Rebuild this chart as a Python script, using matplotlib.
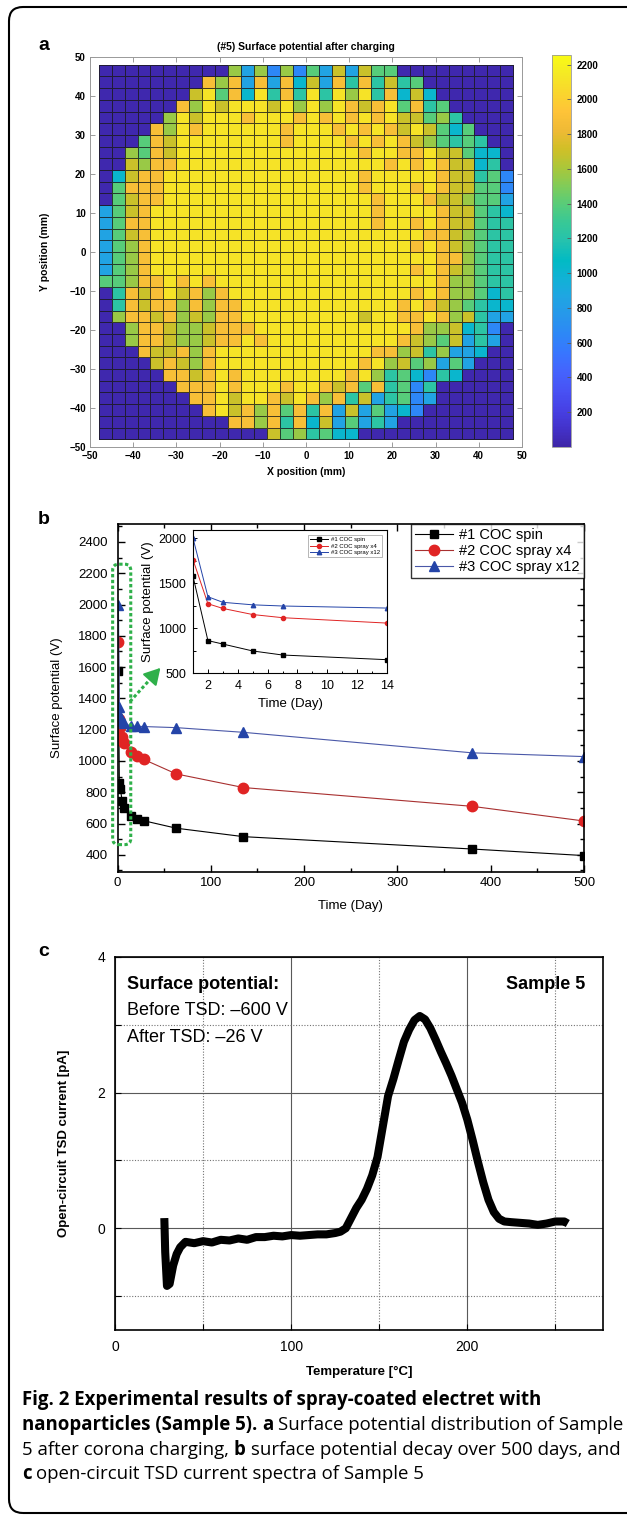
import numpy as np
import matplotlib
matplotlib.use("Agg")
import matplotlib.pyplot as plt
from matplotlib.colors import LinearSegmentedColormap
from matplotlib.patches import FancyBboxPatch
from matplotlib.transforms import IdentityTransform
from matplotlib.ticker import MultipleLocator

plt.rcParams["font.family"] = ["Liberation Sans", "DejaVu Sans"]

W, H = 627, 1516

# matlab parula (R2017a+), every 3rd entry of the 64 colour table
parula_pts = [
    (0.2422, 0.1504, 0.6603), (0.2647, 0.1978, 0.7952), (0.2783, 0.2559, 0.8991),
    (0.2810, 0.3228, 0.9579), (0.2699, 0.3892, 0.9906), (0.2206, 0.4603, 0.9973),
    (0.1786, 0.5289, 0.9682), (0.1540, 0.5902, 0.9218), (0.1248, 0.6459, 0.8883),
    (0.0689, 0.6948, 0.8394), (0.0067, 0.7312, 0.7660), (0.1408, 0.7584, 0.6842),
    (0.2161, 0.7843, 0.5923), (0.3406, 0.8008, 0.4789), (0.5044, 0.7993, 0.3480),
    (0.6720, 0.7793, 0.2227), (0.8203, 0.7498, 0.1535), (0.9393, 0.7288, 0.2100),
    (0.9970, 0.7659, 0.2199), (0.9786, 0.8386, 0.1766), (0.9597, 0.9135, 0.1423),
    (0.9769, 0.9839, 0.0805),
]
parula = LinearSegmentedColormap.from_list(
    "parula", [(i / (len(parula_pts) - 1), c) for i, c in enumerate(parula_pts)])

# ---- (a) potential map, 32 x 32 cells of 3 mm, top row first
cell_value = {"d": 25, "b": 650, "u": 850, "c": 1020, "t": 1230, "g": 1400,
              "l": 1560, "o": 1700, "r": 1880, "y": 2110}
map_rows = [
    "d" * 10 + "lulblbguouogg" + "d" * 9,
    "d" * 8 + "rlrururcourtrtotg" + "d" * 7,
    "d" * 7 + "oygrcytrtytylytrcoc" + "d" * 6,
    "d" * 6 + "rlyoyyyoylylyrorygrtg" + "d" * 5,
    "d" * 5 + "lyoyyyryyyryryryryooglt" + "d" * 4,
    "d" * 4 + "rlyryyyyyyryyyryryroyogcg" + "d" * 3,
    "d" * 3 + "groyyyyyyyyryyyyryryrolgtgt" + "d" * 2,
    "dd" + "lgro" + "y" * 14 + "ryyrryoogcc" + "d",
    "dd" + "olrr" + "y" * 16 + "ryryrooct" + "d",
    "dcorr" + "y" * 15 + "r" + "y" * 5 + "rootgb",
    "dgrrr" + "y" * 15 + "ryyyryro" + "oggb",
    "dgorr" + "y" * 16 + "ryyyro" + "olggu",
    "ugor" + "y" * 17 + "ryyyyr" + "oogtc",
    "ugrr" + "y" * 17 + "ryyryr" + "oogtt",
    "ugor" + "y" * 17 + "yyyyrr" + "olgtt",
    "uglr" + "y" * 17 + "yyyryr" + "olgtt",
    "uglr" + "y" * 17 + "yyyyyr" + "rlgtt",
    "uglr" + "y" * 17 + "yyyryr" + "olgtt",
    "gglrryryry" + "y" * 14 + "yyr" + "llgtt",
    "dtroryorlr" + "y" * 13 + "yryr" + "llgct",
    "dtrorrlrlrr" + "y" * 12 + "ryro" + "lgtcc",
    "dlrrorlolrr" + "y" * 9 + "oyy" + "rryr" + "lotuu",
    "ddlrrollorrr" + "y" * 12 + "rllo" + "ctbd",
    "ddlrrollor" + "ryr" + "y" * 10 + "rolgo" + "utud",
    "dddroorlry" + "y" * 11 + "rrlotl" + "uucdd",
    "ddddorolry" + "y" * 10 + "ryl" + "oglugu" + "ddd",
    "dddddrrory" + "r" + "y" * 8 + "ryltgcbtc" + "dddd",
    "ddddddrrry" + "ryyyryy" + "rorgrtgbt" + "d" * 6,
    "dddddddrry" + "oyyroyr" + "lrtoutgbu" + "d" * 6,
    "ddddddddry" + "orlrgrtruougucb" + "d" * 7,
    "d" * 10 + "rrlrtrcougutu" + "d" * 9,
    "d" * 13 + "ogltgcc" + "d" * 12,
]
cell_edges_mm = np.arange(-48, 49, 3)
cbar_ticks = list(range(200, 2201, 200))

# ---- (b) surface potential decay
decay_days = [1, 2, 3, 5, 7, 14, 21, 28, 63, 135, 380, 500]
spin = [1575, 860, 822, 745, 700, 648, 630, 618, 570, 516, 437, 395]
spray_x4 = [1760, 1270, 1218, 1150, 1115, 1055, 1030, 1010, 917, 830, 710, 616]
spray_x12 = [2000, 1348, 1286, 1258, 1245, 1222, 1222, 1220, 1213, 1183, 1052, 1028]
series_labels = ["#1 COC spin", "#2 COC spray x4", "#3 COC spray x12"]
n_inset = 6  # first two weeks shown in the inset

# ---- (c) open-circuit TSD current
tsd_temp = [28, 28.5, 29.5, 31, 33, 35, 37, 40,
            45, 50, 55, 60, 65, 70, 75, 80, 85, 90, 95, 100, 105, 110, 115, 120, 125,
            128, 131, 134, 137, 140, 143, 146, 149, 152, 155, 158, 161, 164, 167, 170,
            173, 176, 179, 182, 185, 188, 191, 194, 197, 200, 203, 206, 209, 212, 215,
            218, 221, 225, 230, 235, 240, 245, 250, 255, 257]
tsd_current = [0.15, -0.35, -0.85, -0.82, -0.55, -0.38, -0.28, -0.2,
               -0.22, -0.19, -0.21, -0.17, -0.18, -0.15, -0.17, -0.13, -0.13, -0.11,
               -0.12, -0.1, -0.11, -0.1, -0.09, -0.09, -0.07,
               -0.05, 0.0, 0.15, 0.3, 0.42, 0.58, 0.78, 1.05, 1.5, 1.95, 2.2, 2.48,
               2.75, 2.93, 3.07, 3.13, 3.08, 2.95, 2.78, 2.6, 2.43, 2.25, 2.05, 1.85,
               1.6, 1.3, 0.98, 0.68, 0.42, 0.24, 0.14, 0.1,
               0.09, 0.08, 0.07, 0.05, 0.07, 0.1, 0.1, 0.07]


def px_box(left, top, right, bottom):
    return [left / W, 1 - bottom / H, (right - left) / W, (bottom - top) / H]


fig = plt.figure(figsize=(W / 100, H / 100), dpi=100)

# outer rounded frame (right side runs off the page like the scan)
fig.add_artist(FancyBboxPatch((9, 3), 660, 1506, boxstyle="round,pad=0,rounding_size=14",
                              transform=IdentityTransform(), fill=False, lw=1.5, ec="black"))

for letter, y in [("a", 45), ("b", 519), ("c", 952)]:
    fig.text(38 / W, 1 - y / H, letter, fontsize=14, fontweight="bold", va="center", ha="left")

# ---------------- panel a
ax_a = fig.add_axes(px_box(90, 57, 522, 447))
grid = np.array([[cell_value[ch] for ch in row] for row in map_rows[::-1]])
mesh = ax_a.pcolormesh(cell_edges_mm, cell_edges_mm, grid, cmap=parula, vmin=0, vmax=2255,
                       edgecolors=(0.1, 0.1, 0.1, 0.8), linewidth=0.45)
ax_a.set_xlim(-50, 50)
ax_a.set_ylim(-50, 50)
ax_a.set_xticks(range(-50, 51, 10))
ax_a.set_yticks(range(-50, 51, 10))
ax_a.tick_params(direction="in", top=True, right=True, length=3.5, width=0.6, color="0.55",
                 labelsize=7, pad=3)
plt.setp(ax_a.get_xticklabels() + ax_a.get_yticklabels(), fontweight="bold")
for sp in ax_a.spines.values():
    sp.set_color("0.6")
    sp.set_linewidth(0.7)
ax_a.set_title("(#5) Surface potential after charging", fontsize=7.5, fontweight="bold", pad=5)
ax_a.set_xlabel("X position (mm)", fontsize=7.5, fontweight="bold", labelpad=4)
ax_a.set_ylabel("Y position (mm)", fontsize=7.5, fontweight="bold")
ax_a.yaxis.set_label_coords((50 - 90) / 432, 0.5)

cax = fig.add_axes(px_box(552, 55, 571, 447))
cb = fig.colorbar(mesh, cax=cax, ticks=cbar_ticks)
cb.outline.set_edgecolor("0.6")
cb.outline.set_linewidth(0.6)
cax.tick_params(direction="in", length=3, width=0.6, color="0.35", labelsize=7, pad=4)
plt.setp(cax.get_yticklabels(), fontweight="bold")

# ---------------- panel b
red, red_line = "#e02424", "#a83030"
blue, blue_line = "#2444a8", "#4a58a8"
ax_b = fig.add_axes(px_box(117.5, 524, 584, 872))
ax_b.plot(decay_days, spin, "-s", color="black", ms=6, lw=0.8, label=series_labels[0])
ax_b.plot(decay_days, spray_x4, "-o", color=red_line, mfc=red, mec=red, ms=7.5, lw=0.8,
          label=series_labels[1])
ax_b.plot(decay_days, spray_x12, "-^", color=blue_line, mfc=blue, mec=blue, ms=7.5, lw=0.8,
          label=series_labels[2])
ax_b.set_xlim(0, 500)
ax_b.set_ylim(290, 2515)
ax_b.set_xticks(range(0, 501, 100))
ax_b.xaxis.set_minor_locator(MultipleLocator(50))
ax_b.set_yticks(range(400, 2401, 200))
ax_b.yaxis.set_minor_locator(MultipleLocator(100))
ax_b.tick_params(which="both", direction="in", top=True, right=True, width=1)
ax_b.tick_params(which="major", length=5, labelsize=9.5)
ax_b.tick_params(which="minor", length=3)
ax_b.tick_params(axis="y", pad=7)
for sp in ax_b.spines.values():
    sp.set_linewidth(1.2)
ax_b.set_xlabel("Time (Day)", fontsize=9.5, labelpad=8)
ax_b.set_ylabel("Surface potential (V)", fontsize=9.5)
ax_b.yaxis.set_label_coords((63 - 117.5) / 466.5, 0.5)
leg = ax_b.legend(loc="upper right", borderaxespad=0, fontsize=10.5, fancybox=False,
                  edgecolor="black", handlelength=2.6, borderpad=0.3, labelspacing=0.12,
                  handletextpad=0.4)
leg.get_frame().set_linewidth(1.0)

# green dashed marker box round the first two weeks, with arrow to inset
green = "#2fb04a"
(bx0, by0), (bx1, by1) = ax_b.transData.transform([(-5.2, 465), (14.2, 2258)])
fig.add_artist(FancyBboxPatch((bx0, by0), bx1 - bx0, by1 - by0,
                              boxstyle="round,pad=0,rounding_size=6",
                              transform=IdentityTransform(), fill=False, ec=green, lw=2.2,
                              ls=(0, (1.1, 0.8))))
ax_b.plot([13.4, 40], [1380, 1555], color=green, lw=2.2, ls=(0, (1.1, 0.8)), clip_on=False)
ax_b.annotate("", xy=(46, 1595), xytext=(38, 1542),
              arrowprops=dict(arrowstyle="-|>,head_length=0.7,head_width=0.4", color=green,
                              lw=1.5, shrinkA=0, shrinkB=0, mutation_scale=14))

ax_in = fig.add_axes(px_box(193, 530, 387, 673))
ax_in.plot(decay_days[:n_inset], spin[:n_inset], "-s", color="black", ms=2.6, lw=0.7,
           label=series_labels[0])
ax_in.plot(decay_days[:n_inset], spray_x4[:n_inset], "-o", color=red, ms=3, lw=0.7,
           label=series_labels[1])
ax_in.plot(decay_days[:n_inset], spray_x12[:n_inset], "-^", color=blue, ms=3.2, lw=0.7,
           label=series_labels[2])
ax_in.set_xlim(1, 14)
ax_in.set_ylim(500, 2090)
ax_in.set_xticks(range(2, 15, 2))
ax_in.xaxis.set_minor_locator(MultipleLocator(1))
ax_in.set_yticks([500, 1000, 1500, 2000])
ax_in.yaxis.set_minor_locator(MultipleLocator(250))
ax_in.tick_params(which="both", direction="in", width=0.7)
ax_in.tick_params(which="major", length=3, labelsize=9, pad=5)
ax_in.tick_params(which="minor", length=1.8)
for sp in ax_in.spines.values():
    sp.set_linewidth(0.8)
ax_in.set_xlabel("Time (Day)", fontsize=9.5, labelpad=4)
ax_in.set_ylabel("Surface potential (V)", fontsize=9.5, labelpad=3)
lg2 = ax_in.legend(loc="upper right", fontsize=4.3, fancybox=False, edgecolor="0.5",
                   handlelength=3, borderpad=0.3, labelspacing=0.2, borderaxespad=0.9,
                   handletextpad=0.5)
lg2.get_frame().set_linewidth(0.5)

# ---------------- panel c
ax_c = fig.add_axes(px_box(115, 957, 603, 1330))
ax_c.set_axisbelow(True)
ax_c.plot(tsd_temp, tsd_current, color="black", lw=5.8, solid_joinstyle="round",
          solid_capstyle="butt")
ax_c.set_xlim(0, 277)
ax_c.set_ylim(-1.5, 4)
ax_c.set_xticks([0, 100, 200])
ax_c.set_xticks([50, 150, 250], minor=True)
ax_c.set_yticks([0, 2, 4])
ax_c.set_yticks([-1, 1, 3], minor=True)
ax_c.grid(which="major", color="0.35", lw=0.8, ls="-")
ax_c.grid(which="minor", color="0.45", lw=0.8, ls=(0, (1, 1.5)))
ax_c.tick_params(which="both", direction="in", length=4, width=0.8, labelsize=10)
ax_c.tick_params(axis="x", pad=7)
ax_c.tick_params(axis="y", pad=7)
for sp in ax_c.spines.values():
    sp.set_linewidth(1.2)
ax_c.set_xlabel("Temperature [°C]", fontsize=9.5, fontweight="bold", labelpad=9)
ax_c.set_ylabel("Open-circuit TSD current [pA]", fontsize=9.5, fontweight="bold")
ax_c.yaxis.set_label_coords((70 - 115) / 488, 0.5)
ax_c.text(7, 3.6, "Surface potential:", fontsize=13, fontweight="bold", va="center")
ax_c.text(7, 3.21, "Before TSD: \u2013600 V", fontsize=13, va="center")
ax_c.text(7, 2.81, "After TSD: \u201326 V", fontsize=13, va="center")
ax_c.text(267, 3.6, "Sample 5", fontsize=13, fontweight="bold", va="center", ha="right")

# ---------------- caption (mixed bold / regular runs)
cap_font = ["Open Sans", "DejaVu Sans"]
cap_size = 13.4
renderer = fig.canvas.get_renderer()


def run_width(s, weight):
    t = fig.text(0, 0, s, fontsize=cap_size, fontweight=weight, family=cap_font)
    w = t.get_window_extent(renderer).width
    t.remove()
    return w


space_w = run_width("a a", "normal") - run_width("aa", "normal")
caption = [
    [("Fig. 2 Experimental results of spray-coated electret with", "bold")],
    [("nanoparticles (Sample 5).", "bold"), ("a", "bold"),
     ("Surface potential distribution of Sample", "normal")],
    [("5 after corona charging,", "normal"), ("b", "bold"),
     ("surface potential decay over 500 days, and", "normal")],
    [("c", "bold"), ("open-circuit TSD current spectra of Sample 5", "normal")],
]
for i, parts in enumerate(caption):
    x = 22
    y = 1400 + 24.8 * i
    for s, weight in parts:
        fig.text(x / W, 1 - y / H, s, fontsize=cap_size, fontweight=weight, family=cap_font,
                 va="center", ha="left")
        x += run_width(s, weight) + space_w

fig.savefig("out.png", dpi=100)
